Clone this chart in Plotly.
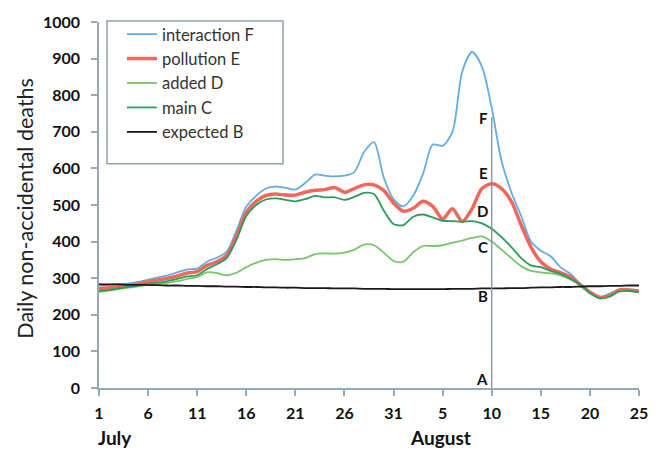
import plotly.graph_objects as go

# Day index 0 = July 1 ... 55 = August 25
days = list(range(56))

interaction_F = [280, 282, 284, 286, 290, 296, 302, 308, 316, 324, 326, 345, 356, 372, 430, 495,
                 525, 545, 550, 547, 542, 560, 583, 580, 578, 580, 590, 645, 672, 575, 516, 496,
                 525, 585, 665, 662, 700, 865, 918, 878, 765, 620, 535, 470, 400, 375, 360, 330,
                 312, 285, 260, 248, 258, 268, 268, 265]
pollution_E = [272, 274, 277, 280, 284, 290, 295, 300, 306, 314, 318, 335, 345, 362, 415, 480,
               510, 526, 530, 527, 527, 535, 540, 542, 548, 535, 545, 555, 555, 540, 505, 483,
               491, 510, 496, 462, 490, 455, 490, 545, 558, 545, 510, 445, 385, 345, 325, 315,
               303, 282, 262, 248, 252, 268, 268, 265]
main_C = [265, 268, 272, 276, 280, 285, 288, 292, 298, 305, 308, 325, 338, 355, 405, 470,
          500, 515, 518, 514, 510, 516, 525, 521, 521, 514, 522, 533, 530, 485, 448, 445,
          468, 474, 466, 457, 456, 454, 456, 450, 435, 412, 385, 355, 335, 330, 320, 312,
          298, 283, 260, 245, 250, 264, 265, 262]
added_D = [263, 266, 270, 274, 278, 282, 284, 287, 292, 298, 303, 316, 314, 308, 315, 330,
           342, 350, 352, 350, 352, 355, 366, 368, 367, 370, 378, 392, 390, 370, 347, 345,
           371, 388, 388, 390, 397, 403, 410, 414, 400, 378, 355, 333, 320, 316, 313, 308,
           297, 280, 258, 245, 250, 264, 265, 262]
expected_B = [284, 283, 283, 282, 282, 281, 281, 280, 280, 279, 279, 278, 278, 277, 277, 276,
              276, 275, 275, 274, 274, 273, 273, 273, 272, 272, 272, 271, 271, 271, 270, 270,
              270, 270, 270, 270, 271, 271, 271, 272, 272, 272, 273, 273, 274, 275, 275, 276,
              276, 277, 278, 278, 279, 279, 280, 280]

tick_vals = [0, 5, 10, 15, 20, 25, 30, 35, 40, 45, 50, 55]
tick_text = ["1", "6", "11", "16", "21", "26", "31", "5", "10", "15", "20", "25"]
y_ticks = [0, 100, 200, 300, 400, 500, 600, 700, 800, 900, 1000]

marker_day = 40
marker_top = 740
marker_letters = ["F", "E", "D", "C", "B", "A"]
marker_levels = [730, 580, 475, 377, 243, 17]

month_names = ["July", "August"]
month_days = [0, 34.8]

FONT = "Lato"
AXIS = "#97a8b8"

fig = go.Figure()
series = [
    ("interaction F", interaction_F, "#62ade3", 1.8),
    ("pollution E", pollution_E, "#f2665c", 3.5),
    ("added D", added_D, "#79c46a", 1.8),
    ("main C", main_C, "#2e9a5e", 1.8),
    ("expected B", expected_B, "#1a1a1a", 1.8),
]
for name, vals, col, w in series:
    fig.add_trace(go.Scatter(x=days, y=vals, mode="lines", name=name, legendgroup=name,
                             line=dict(color=col, width=w, shape="spline", smoothing=0.8)))

# vertical marker line
fig.add_shape(type="line", xref="x", yref="y", x0=marker_day, x1=marker_day, y0=0, y1=marker_top,
              line=dict(color="#7f8f9e", width=1.3), layer="above")
for letter, lvl in zip(marker_letters, marker_levels):
    fig.add_annotation(x=marker_day, y=lvl, xref="x", yref="y", text=letter, showarrow=False,
                       xanchor="right", xshift=-2, yshift=3,
                       font=dict(family=FONT, size=15, color="#111", weight="bold"))

for name, d in zip(month_names, month_days):
    fig.add_annotation(x=d, y=-0.134, xref="x", yref="paper", text=name, showarrow=False,
                       xanchor="left" if name == "July" else "center", xshift=-3 if name == "July" else 0,
                       yanchor="middle", font=dict(family=FONT, size=19, color="#111", weight="bold"))

fig.add_annotation(x=-0.137, y=0.49, xref="paper", yref="paper", text="Daily non-accidental deaths",
                   textangle=-90, showarrow=False, xanchor="center", yanchor="middle",
                   font=dict(family=FONT, size=21.5, color="#222"))

# legend frame
fig.add_shape(type="rect", xref="paper", yref="paper", x0=0.0148, x1=0.3407, y0=0.613, y1=1.003,
              line=dict(color="#8ea2b2", width=1.5), fillcolor="rgba(0,0,0,0)")

fig.update_layout(
    width=666, height=450,
    margin=dict(l=99, r=27, t=16, b=62),
    paper_bgcolor="white", plot_bgcolor="white",
    font=dict(family=FONT, color="#222"),
    showlegend=True,
    legend=dict(x=0.0425, y=1.014, xanchor="left", yanchor="top", bgcolor="rgba(0,0,0,0)",
                borderwidth=0, font=dict(family=FONT, size=16.5, color="#333"),
                tracegroupgap=0, traceorder="normal"),
    xaxis=dict(range=[0, 55], tickmode="array", tickvals=tick_vals, ticktext=tick_text,
               showline=True, linecolor=AXIS, linewidth=1.5, ticks="outside", ticklen=6,
               tickcolor=AXIS, tickwidth=1.5, showgrid=False, zeroline=False, ticklabelstandoff=4,
               tickfont=dict(family=FONT, size=16, color="#111", weight="bold")),
    yaxis=dict(range=[0, 1000], tickmode="array", tickvals=y_ticks,
               showline=True, linecolor=AXIS, linewidth=1.5, ticks="outside", ticklen=6,
               tickcolor=AXIS, tickwidth=1.5, showgrid=False, zeroline=False, ticklabelstandoff=8,
               tickfont=dict(family=FONT, size=16, color="#111", weight="bold")),
)

fig.write_html("out.html", config={"displayModeBar": False},
               post_script="document.body.style.margin='0px';document.body.style.overflow='hidden';")
